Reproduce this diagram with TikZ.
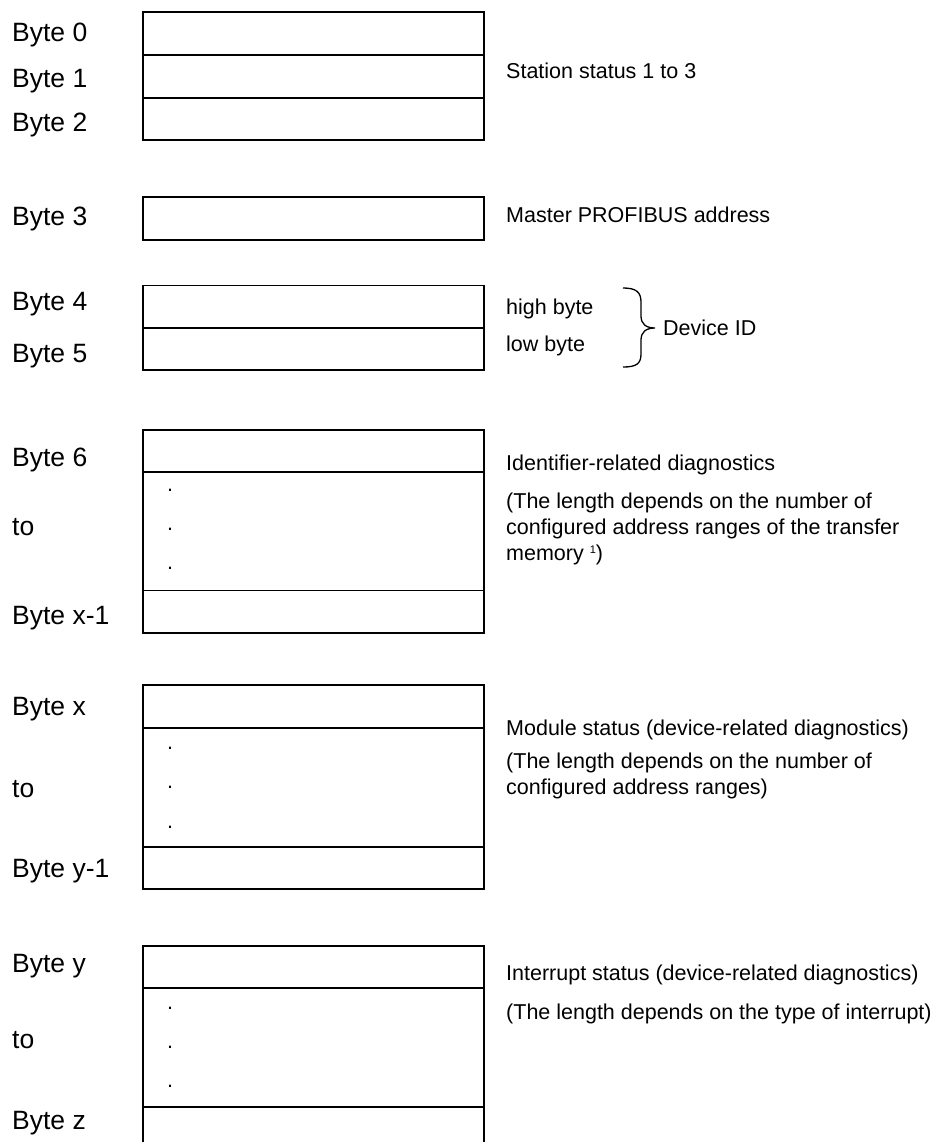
\documentclass[tikz,border=0pt]{standalone}
\usepackage{fontspec}
\setmainfont{Liberation Sans}
\tikzset{
  cell/.style={draw=black, line width=1.3pt},
  bytelbl/.style={anchor=base west, inner sep=0pt, font=\fontsize{26.5}{30}\selectfont},
  desc/.style={anchor=base west, inner sep=0pt, font=\fontsize{21.5}{25.8}\selectfont},
  dotmark/.style={anchor=base, inner sep=0pt, font=\fontsize{21.5}{25.8}\selectfont},
  bracestyle/.style={draw=black, line width=1.3pt}
}
\begin{document}
\begin{tikzpicture}[x=1pt, y=-1pt]
\useasboundingbox (0,0) rectangle (938,1142);
\clip (0,0) rectangle (938,1142);
% ---- cells ----
\draw[cell] (143,12) rectangle (484,55);
\draw[cell] (143,55) rectangle (484,98);
\draw[cell] (143,98) rectangle (484,140);
\draw[cell] (143,197) rectangle (484,240);
\draw[cell] (143,285.7) rectangle (484,328);
\draw[cell] (143,328) rectangle (484,370);
\draw[cell] (143,430) rectangle (484,472);
\draw[cell] (143,472) rectangle (484,590.7);
\draw[cell] (143,590.7) rectangle (484,633);
\draw[cell] (143,685) rectangle (484,728);
\draw[cell] (143,728) rectangle (484,847);
\draw[cell] (143,847) rectangle (484,889);
\draw[cell] (143,946) rectangle (484,988);
\draw[cell] (143,988) rectangle (484,1107);
\draw[cell] (143,1107) rectangle (484,1149);
% ---- dots ----
\node[dotmark] (d1) at (170,491.1) {.};
\node[dotmark] (d2) at (170,530.1) {.};
\node[dotmark] (d3) at (170,569.1) {.};
\node[dotmark] (d4) at (170,749.1) {.};
\node[dotmark] (d5) at (170,788.1) {.};
\node[dotmark] (d6) at (170,828.1) {.};
\node[dotmark] (d7) at (170,1009.1) {.};
\node[dotmark] (d8) at (170,1048.1) {.};
\node[dotmark] (d9) at (170,1087.1) {.};
% ---- byte labels ----
\node[bytelbl] (l0) at (12,42) {Byte 0};
\node[bytelbl] (l1) at (12,87.3) {Byte 1};
\node[bytelbl] (l2) at (12,131.7) {Byte 2};
\node[bytelbl] (l3) at (12,225) {Byte 3};
\node[bytelbl] (l4) at (12,310) {Byte 4};
\node[bytelbl] (l5) at (12,362) {Byte 5};
\node[bytelbl] (l6) at (12,466) {Byte 6};
\node[bytelbl] (l7) at (12,535.5) {to};
\node[bytelbl] (l8) at (12,624) {Byte x-1};
\node[bytelbl] (l9) at (12,715) {Byte x};
\node[bytelbl] (l10) at (12,797) {to};
\node[bytelbl] (l11) at (12,877) {Byte y-1};
\node[bytelbl] (l12) at (12,972) {Byte y};
\node[bytelbl] (l13) at (12,1048) {to};
\node[bytelbl] (l14) at (12,1129) {Byte z};
% ---- descriptions ----
\node[desc] (t1) at (506,78.5) {Station status 1 to 3};
\node[desc] (t2) at (506,222.7) {Master PROFIBUS address};
\node[desc] (t3) at (506,314) {high byte};
\node[desc] (t4) at (506,351.7) {low byte};
\node[desc] (t5) at (663,335) {Device ID};
\node[desc] (t6) at (506,470.7) {Identifier-related diagnostics};
\node[desc] (t7) at (506,508.5) {(The length depends on the number of};
\node[desc] (t8) at (506,534.5) {configured address ranges of the transfer};
\node[desc] (t9) at (506,560.3) {memory {\fontsize{11}{11}\selectfont\raisebox{7pt}{1}})};
\node[desc] (t10) at (506,735) {Module status (device-related diagnostics)};
\node[desc] (t11) at (506,768.3) {(The length depends on the number of};
\node[desc] (t12) at (506,794.3) {configured address ranges)};
\node[desc] (t13) at (506,980) {Interrupt status (device-related diagnostics)};
\node[desc] (t14) at (506,1019) {(The length depends on the type of interrupt)};
% ---- brace ----
\draw[bracestyle] (623,288) .. controls (636,288) and (641,292) .. (641,302)
  -- (641,316) .. controls (641,324) and (646,328) .. (655,328)
  .. controls (646,328) and (641,332) .. (641,340)
  -- (641,354) .. controls (641,364) and (636,367) .. (623,367);
\end{tikzpicture}
\end{document}
